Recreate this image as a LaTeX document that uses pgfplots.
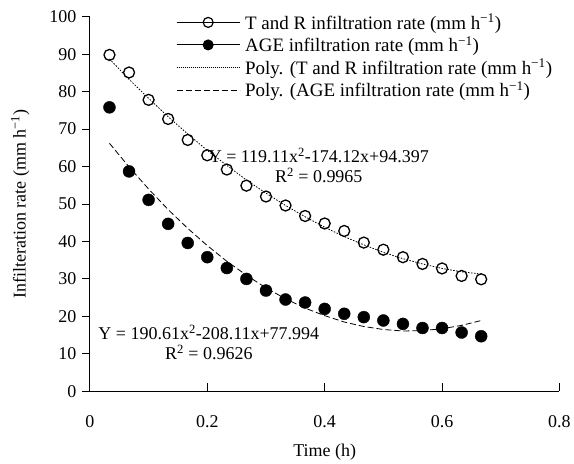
\documentclass[border=0pt]{standalone}
\usepackage{fontspec}
\setmainfont{Liberation Serif}
\usepackage{pgfplots}
\pgfplotsset{compat=1.18}

% T and R infiltration rate, every 2 min (h)
\pgfplotstableread{
t r
0.03333 89.8
0.06667 85.1
0.10000 77.8
0.13333 72.7
0.16667 67.1
0.20000 63.0
0.23333 59.2
0.26667 54.9
0.30000 52.0
0.33333 49.6
0.36667 46.8
0.40000 44.8
0.43333 42.8
0.46667 39.7
0.50000 37.8
0.53333 35.8
0.56667 34.0
0.60000 32.8
0.63333 30.8
0.66667 29.9
}\tr
% AGE infiltration rate
\pgfplotstableread{
t r
0.03333 75.8
0.06667 58.7
0.10000 51.1
0.13333 44.7
0.16667 39.6
0.20000 35.8
0.23333 32.9
0.26667 30.0
0.30000 26.9
0.33333 24.5
0.36667 23.7
0.40000 22.0
0.43333 20.7
0.46667 19.8
0.50000 18.9
0.53333 18.0
0.56667 16.9
0.60000 16.9
0.63333 15.7
0.66667 14.7
}\age
% trend lines as drawn
\pgfplotstableread{
t r
0.03333 88.7
0.06667 83.3
0.10000 78.2
0.13333 73.3
0.16667 68.7
0.20000 64.3
0.23333 60.3
0.26667 56.4
0.30000 52.9
0.33333 49.6
0.36667 46.6
0.40000 43.8
0.43333 41.3
0.46667 39.1
0.50000 37.1
0.53333 35.4
0.56667 34.0
0.60000 32.8
0.63333 31.9
0.66667 31.3
}\trfit
\pgfplotstableread{
t r
0.03333 66.2
0.06667 59.9
0.10000 54.0
0.13333 48.5
0.16667 43.5
0.20000 38.9
0.23333 34.7
0.26667 31.0
0.30000 27.6
0.33333 24.7
0.36667 22.2
0.40000 20.2
0.43333 18.5
0.46667 17.3
0.50000 16.5
0.53333 16.1
0.56667 16.2
0.60000 16.7
0.63333 17.6
0.66667 18.9
}\agefit

\begin{document}
\begin{tikzpicture}
\begin{axis}[scale only axis,width=470pt,height=375pt,
xmin=0,xmax=0.8,ymin=0,ymax=100,
xtick={0,0.2,0.4,0.6,0.8},ytick distance=10,
axis lines=left,axis line style={-,line width=0.9pt},
tick style={black,line width=0.9pt},major tick length=8pt,
xtick align=inside,ytick align=outside,
font=\fontsize{18}{20}\selectfont,
/pgf/number format/assume math mode=true,
xticklabel style={yshift=-21pt},
yticklabel style={xshift=-2pt},
xlabel={Time (h)},
ylabel={Infilteration rate (mm h\textsuperscript{\char"2212 1})},
xlabel style={yshift=-9pt},
ylabel style={yshift=13pt},
legend cell align=left,
legend style={draw=none,fill=none,at={(rel axis cs:0.177,1.018)},anchor=north west,
  font=\fontsize{19}{20}\selectfont,row sep=2pt,
  /tikz/every odd column/.append style={column sep=3pt}},
legend image code/.code={\draw[mark repeat=2,mark phase=2,#1] plot coordinates {(0pt,0pt) (31.5pt,0pt) (63pt,0pt)};},
clip=false]
\coordinate (O) at (axis cs:0,0);
\addlegendimage{black,line width=1pt,mark=o,mark size=5pt,mark options={solid,fill=white,line width=1.2pt}}
\addlegendentry{T and R infiltration rate (mm h\textsuperscript{\char"2212 1})}
\addlegendimage{black,line width=1pt,mark=*,mark size=5pt}
\addlegendentry{AGE infiltration rate (mm h\textsuperscript{\char"2212 1})}
\addlegendimage{black,line width=0.7pt,dash pattern=on 0.8pt off 1.2pt}
\addlegendentry{Poly. (T and R infiltration rate (mm h\textsuperscript{\char"2212 1})}
\addlegendimage{black,line width=0.7pt,dash pattern=on 6pt off 3pt}
\addlegendentry{Poly. (AGE infiltration rate (mm h\textsuperscript{\char"2212 1})}

\addplot[forget plot,black,line width=0.8pt,dash pattern=on 1.5pt off 1.5pt] table {\trfit};
\addplot[forget plot,black,line width=0.8pt,dash pattern=on 6pt off 3pt] table {\agefit};
\addplot[forget plot,only marks,mark=o,mark size=5.5pt,mark options={black,fill=white,line width=1.3pt}] table {\tr};
\addplot[forget plot,only marks,mark=*,mark size=6pt,black] table {\age};

\node[align=center,font=\fontsize{18}{20}\selectfont] at (axis cs:0.39,60.2)
  {Y = 119.11x\textsuperscript{2}-174.12x+94.397\\R\textsuperscript{2} = 0.9965};
\node[align=center,font=\fontsize{18}{20}\selectfont] at (axis cs:0.2026,13.07)
  {Y = 190.61x\textsuperscript{2}-208.11x+77.994\\R\textsuperscript{2} = 0.9626};
\end{axis}
\path (O) ++(-90pt,-66.3pt) rectangle ++(574pt,458pt);
\end{tikzpicture}
\end{document}
